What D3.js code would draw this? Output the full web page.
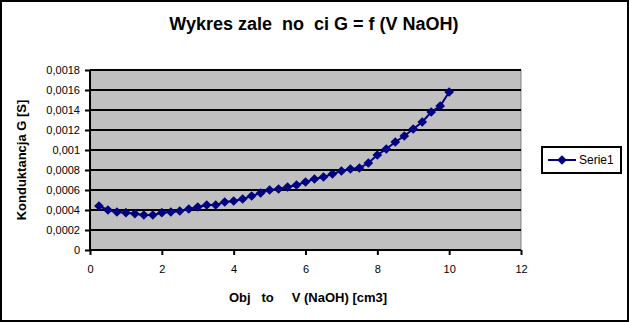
<!DOCTYPE html>
<html>
<head>
<meta charset="utf-8">
<script src="https://cdn.jsdelivr.net/npm/d3@7"></script>
<style>
  body { margin: 0; background: #fff; }
  svg { display: block; font-family: "Liberation Sans", Arial, sans-serif; }
</style>
</head>
<body>
<script>
// volume of NaOH [cm3] and conductance G [S]
const volume = [0.25, 0.5, 0.75, 1, 1.25, 1.5, 1.75, 2, 2.25, 2.5, 2.75, 3, 3.25, 3.5, 3.75, 4,
    4.25, 4.5, 4.75, 5, 5.25, 5.5, 5.75, 6, 6.25, 6.5, 6.75, 7, 7.25, 7.5, 7.75, 8,
    8.25, 8.5, 8.75, 9, 9.25, 9.5, 9.75, 10]
const conductance = [0.00044, 0.0004, 0.00038, 0.000373, 0.000363, 0.00035, 0.00035, 0.000373,
    0.00038, 0.00039, 0.00041, 0.00043, 0.00045, 0.00045, 0.00048, 0.00049,
    0.00051, 0.00054, 0.00057, 0.0006, 0.00061, 0.00063, 0.00065, 0.00068,
    0.00071, 0.00073, 0.00076, 0.00079, 0.00081, 0.00082, 0.00087, 0.00095,
    0.00101, 0.00108, 0.00114, 0.00121, 0.00128, 0.00138, 0.00144, 0.00158]
const xTicks = [0, 2, 4, 6, 8, 10, 12]
const yTicks = [0, 0.0002, 0.0004, 0.0006, 0.0008, 0.001, 0.0012, 0.0014, 0.0016, 0.0018]
const seriesName = "Serie1"

const width = 629, height = 322
const margin = {top: 70, right: 108, bottom: 72, left: 90}
const navy = "#000080"

const data = volume.map((v, i) => ({v: v, g: conductance[i]}))

const svg = d3.select("body").append("svg")
    .attr("width", width)
    .attr("height", height)

svg.append("rect")
    .attr("x", 1).attr("y", 1)
    .attr("width", width - 2).attr("height", height - 2)
    .attr("fill", "#fff")
    .attr("stroke", "#000")
    .attr("stroke-width", 2)

const x = d3.scaleLinear()
    .domain([0, 12])
    .range([margin.left, width - margin.right])

const y = d3.scaleLinear()
    .domain([0, 0.0018])
    .range([height - margin.bottom, margin.top])

const fmt = d => String(+d.toFixed(4)).replace(".", ",")

// plot area
svg.append("rect")
    .attr("x", x(0)).attr("y", y(0.0018))
    .attr("width", x(12) - x(0)).attr("height", y(0) - y(0.0018))
    .attr("fill", "#c0c0c0")
    .attr("stroke", "#808080")
    .attr("stroke-width", 1)

svg.append("g")
    .selectAll("line")
    .data(yTicks.slice(1))
    .join("line")
    .attr("x1", x(0)).attr("x2", x(12))
    .attr("y1", d => y(d)).attr("y2", d => y(d))
    .attr("stroke", "#000")
    .attr("stroke-width", 2)

const yAxis = svg.append("g")
    .attr("transform", `translate(${x(0)},0)`)
    .call(d3.axisLeft(y).tickValues(yTicks).tickFormat(fmt).tickSize(5).tickPadding(5))
yAxis.selectAll("line, path").attr("stroke", "#000").attr("stroke-width", 2)
yAxis.select(".domain").attr("d", `M0,${y(0)}V${y(0.0018)}`)
yAxis.selectAll("text").attr("font-size", 11).attr("font-family", "Liberation Sans, Arial, sans-serif").attr("fill", "#000")

const xAxis = svg.append("g")
    .attr("transform", `translate(0,${y(0)})`)
    .call(d3.axisBottom(x).tickValues(xTicks).tickSize(5).tickPadding(10))
xAxis.selectAll("line, path").attr("stroke", "#000").attr("stroke-width", 2)
xAxis.select(".domain").attr("d", `M${x(0)},0H${x(12)}`)
xAxis.selectAll("text").attr("font-size", 11).attr("font-family", "Liberation Sans, Arial, sans-serif").attr("fill", "#000")

// series
const line = d3.line().x(d => x(d.v)).y(d => y(d.g))
svg.append("path")
    .attr("fill", "none")
    .attr("stroke", navy)
    .attr("stroke-width", 2)
    .attr("d", line(data))

const diamond = d3.symbol().type(d3.symbolDiamond2).size(60)
svg.append("g")
    .selectAll("path")
    .data(data)
    .join("path")
    .attr("transform", d => `translate(${x(d.v)},${y(d.g)})`)
    .attr("d", diamond)
    .attr("fill", navy)

// titles
svg.append("text")
    .attr("x", 314).attr("y", 30)
    .attr("text-anchor", "middle")
    .attr("font-size", 18)
    .attr("font-weight", "bold")
    .style("white-space", "pre")
    .text("Wykres zale  no  ci G = f (V NaOH)")

svg.append("text")
    .attr("transform", `translate(26,${(y(0) + y(0.0018)) / 2}) rotate(-90)`)
    .attr("text-anchor", "middle")
    .attr("font-size", 13)
    .attr("font-weight", "bold")
    .text("Konduktancja G [S]")

svg.append("text")
    .attr("x", 308).attr("y", 302)
    .attr("text-anchor", "middle")
    .attr("font-size", 13)
    .attr("font-weight", "bold")
    .style("white-space", "pre")
    .text("Obj   to     V (NaOH) [cm3]")

// legend
const legend = svg.append("g").attr("transform", "translate(542,147)")
legend.append("rect")
    .attr("width", 79).attr("height", 26)
    .attr("fill", "#fff")
    .attr("stroke", "#000")
    .attr("stroke-width", 2)
legend.append("line")
    .attr("x1", 6).attr("x2", 34)
    .attr("y1", 13).attr("y2", 13)
    .attr("stroke", navy)
    .attr("stroke-width", 2)
legend.append("path")
    .attr("transform", "translate(20,13)")
    .attr("d", diamond)
    .attr("fill", navy)
legend.append("text")
    .attr("x", 37).attr("y", 17)
    .attr("font-size", 12)
    .text(seriesName)
</script>
</body>
</html>
